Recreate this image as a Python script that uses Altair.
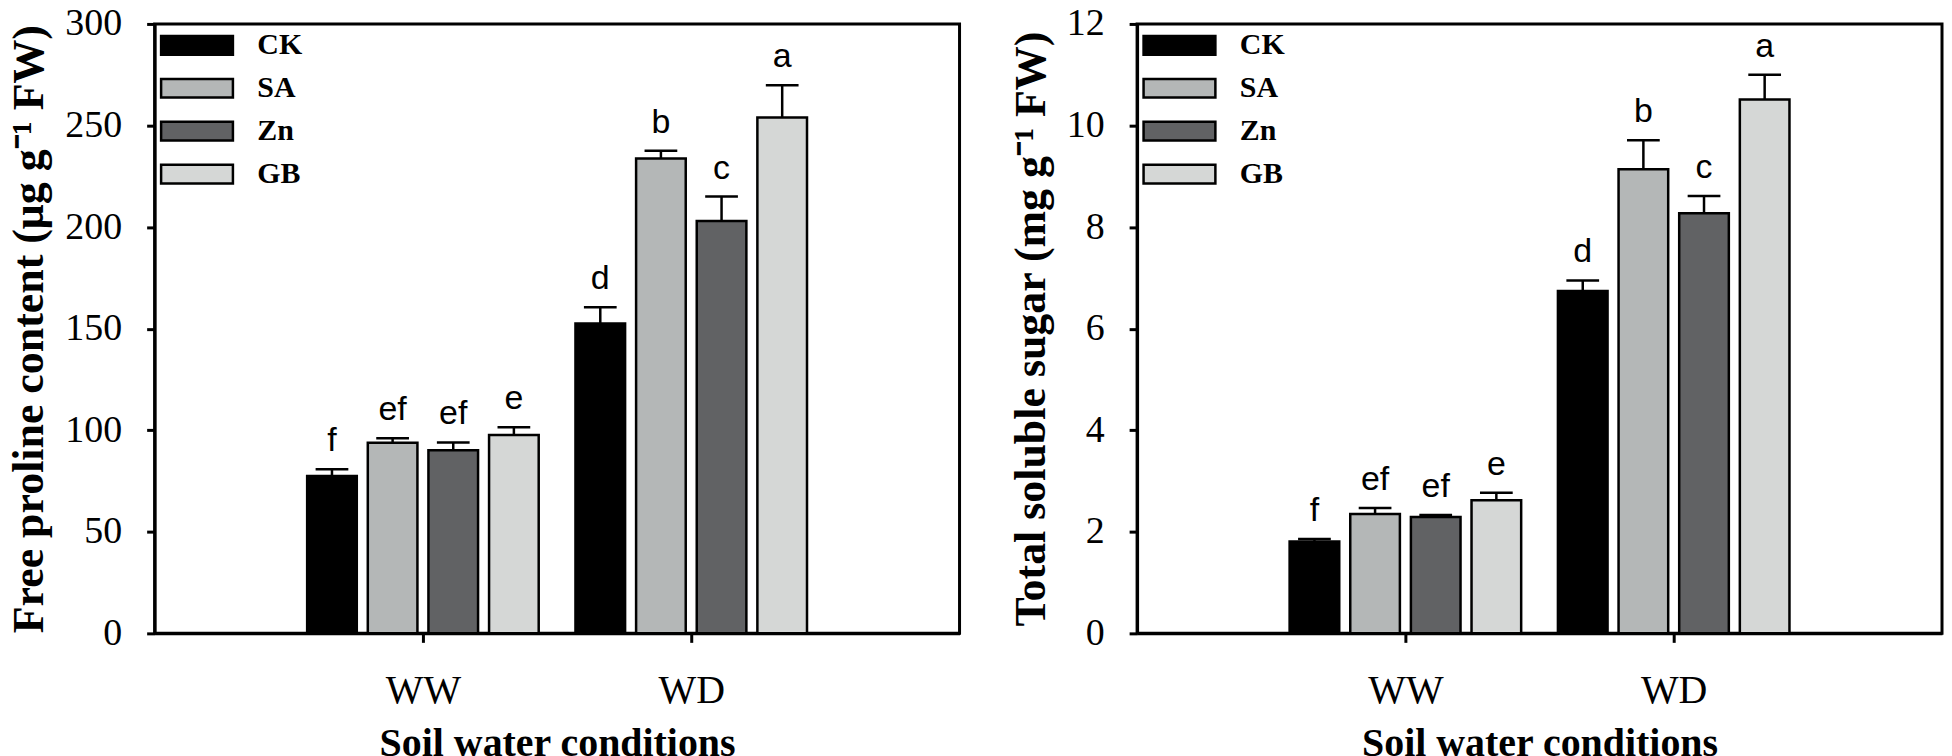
import json
import altair as alt
import pandas as pd

# ---------------- data ----------------
conditions = ["WW", "WD"]
treatments = ["CK", "SA", "Zn", "GB"]
colors = ["#000000", "#b4b7b7", "#616264", "#d5d7d6"]

proline_mean = [77.5, 93.8, 90.2, 97.7, 152.5, 233.8, 203.0, 254.0]
proline_err = [3.3, 2.3, 3.8, 3.8, 8.0, 3.8, 12.0, 15.8]
proline_letters = ["f", "ef", "ef", "e", "d", "b", "c", "a"]

sugar_mean = [1.81, 2.35, 2.29, 2.62, 6.74, 9.14, 8.27, 10.51]
sugar_err = [0.05, 0.12, 0.04, 0.15, 0.21, 0.57, 0.34, 0.49]
sugar_letters = ["f", "ef", "ef", "e", "d", "b", "c", "a"]

proline_ticks = [0, 50, 100, 150, 200, 250, 300]
sugar_ticks = [0, 2, 4, 6, 8, 10, 12]


def make_df(means, errs, letters):
    rows = []
    for gi, cond in enumerate(conditions):
        for ti, trt in enumerate(treatments):
            k = gi * len(treatments) + ti
            rows.append({"condition": cond, "treatment": trt, "gi": gi + 1, "ti": ti,
                         "mean": means[k], "err": errs[k], "letter": letters[k]})
    return pd.DataFrame(rows)


# ---------------- layout constants ----------------
STEP = 0.226   # distance between bar centres (x units)
HALF = 0.0925  # half bar width (x units)
CAP = 0.061    # half error-cap width (x units)
W, H = 807, 611
SERIF = "Liberation Serif"
SANS = "Liberation Sans"


def panel(df, ytitle, ymax, ticks):
    base = alt.Chart(df).transform_calculate(
        xc=f"datum.gi + (datum.ti - {(len(treatments) - 1) / 2}) * {STEP}"
    ).transform_calculate(
        x0=f"datum.xc - {HALF}",
        x1=f"datum.xc + {HALF}",
        c0=f"datum.xc - {CAP}",
        c1=f"datum.xc + {CAP}",
        top="datum.mean + datum.err",
    )
    xscale = alt.Scale(domain=[0, 3], nice=False, zero=False)
    yscale = alt.Scale(domain=[0, ymax], nice=False, zero=True)
    xaxis = alt.Axis(
        values=[1, 2],
        labelExpr=f"{json.dumps(conditions)}[datum.value - 1]",
        title="Soil water conditions",
        titleFont=SERIF, titleFontWeight="bold", titleFontSize=40, titleColor="black",
        titlePadding=13,
        labelFont=SERIF, labelFontSize=40, labelColor="black", labelPadding=28,
        labelFlush=False, labelOverlap=False,
        tickSize=9, tickWidth=3, tickColor="black",
        domainColor="black", domainWidth=3, grid=False,
    )
    yaxis = alt.Axis(
        values=ticks, title=ytitle,
        titleFont=SERIF, titleFontWeight="bold", titleFontSize=44, titleColor="black",
        titlePadding=13,
        labelFont=SERIF, labelFontSize=38, labelColor="black", labelPadding=25,
        labelFlush=False, labelOverlap=False,
        tickSize=8, tickWidth=3, tickColor="black",
        domainColor="black", domainWidth=3, grid=False,
    )
    legend = alt.Legend(
        title=None, orient="none", legendX=23, legendY=2,
        symbolType="M-2,-0.52L2,-0.52L2,0.52L-2,0.52Z", symbolSize=1296,
        symbolStrokeColor="black", symbolStrokeWidth=2.5, symbolOpacity=1,
        labelFont=SERIF, labelFontWeight="bold", labelFontSize=30, labelColor="black",
        labelOffset=41, rowPadding=8, padding=0,
    )
    bars = base.mark_bar(stroke="black", strokeWidth=2.5, opacity=1).encode(
        x=alt.X("x0:Q", scale=xscale, axis=xaxis),
        x2="x1:Q",
        y=alt.Y("mean:Q", scale=yscale, axis=yaxis),
        y2=alt.datum(0),
        fill=alt.Fill("treatment:N", sort=treatments,
                      scale=alt.Scale(domain=treatments, range=colors), legend=legend),
    )
    stems = base.mark_rule(color="black", strokeWidth=2.5).encode(
        x=alt.X("xc:Q", scale=xscale, axis=xaxis),
        y=alt.Y("mean:Q", scale=yscale, axis=yaxis),
        y2="top:Q",
    )
    caps = base.mark_rule(color="black", strokeWidth=2.5).encode(
        x=alt.X("c0:Q", scale=xscale, axis=xaxis),
        x2="c1:Q",
        y=alt.Y("top:Q", scale=yscale, axis=yaxis),
    )
    letters = base.mark_text(dy=-11, baseline="bottom", font=SANS, fontSize=34,
                             color="black").encode(
        x=alt.X("xc:Q", scale=xscale, axis=xaxis),
        y=alt.Y("top:Q", scale=yscale, axis=yaxis),
        text="letter:N",
    )
    return alt.layer(bars, stems, caps, letters).properties(width=W, height=H)


left = panel(make_df(proline_mean, proline_err, proline_letters),
             "Free proline content (μg g⁻¹ FW)", 300, proline_ticks)
right = panel(make_df(sugar_mean, sugar_err, sugar_letters),
              "Total soluble sugar (mg g⁻¹ FW)", 12, sugar_ticks)

chart = alt.hconcat(left, right, spacing=46).resolve_scale(
    x="independent", y="independent", fill="independent"
).resolve_legend(fill="independent").properties(
    padding={"top": -6, "left": -2, "right": 0, "bottom": 0},
    background="white",
).configure_view(stroke="black", strokeWidth=3)

chart.save("out.html", embed_options={"renderer": "svg", "actions": False})
